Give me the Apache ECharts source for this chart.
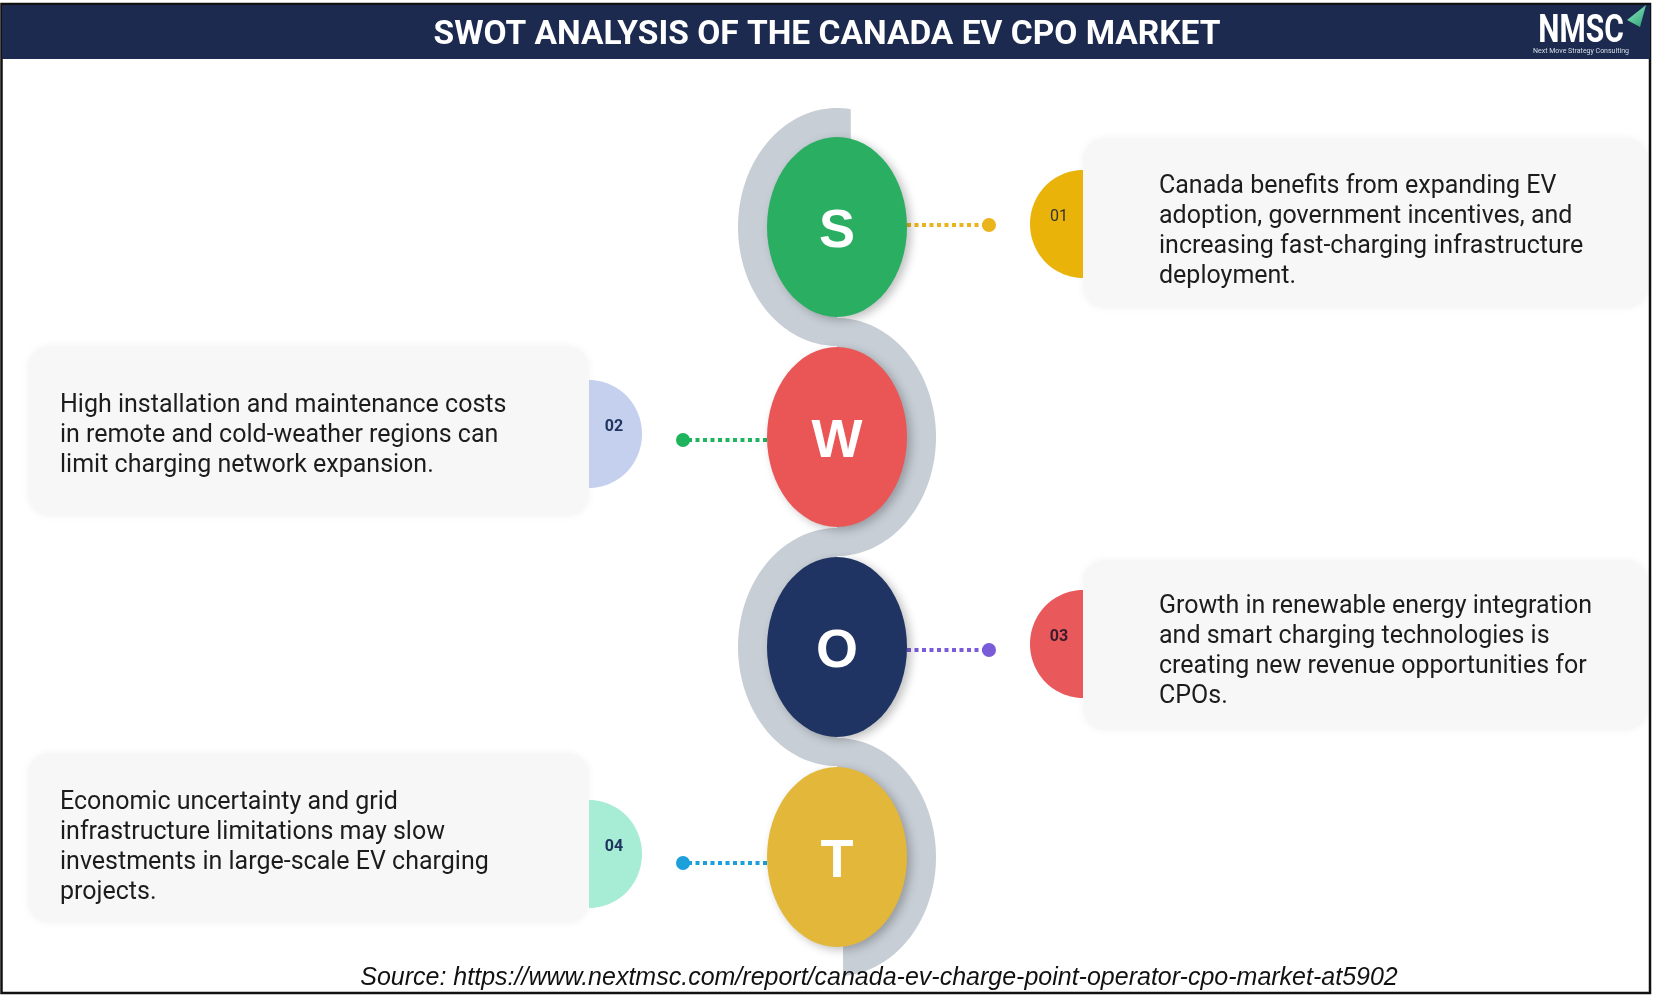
<!DOCTYPE html>
<html lang="en">
<head>
	<meta charset="utf-8" />
	<title>SWOT Analysis of the Canada EV CPO Market</title>
	<style>
		html, body { margin: 0; padding: 0; background: #ffffff; }
		#chart { width: 1653px; height: 1006px; }
	</style>
</head>
<body>
	<div id="chart"></div>
	<script type="text/javascript" src="https://cdn.jsdelivr.net/npm/echarts@6/dist/echarts.min.js"></script>
	<script type="text/javascript">
		// data
		const titleText = 'SWOT ANALYSIS OF THE CANADA EV CPO MARKET';
		const sourceText = 'Source: https://www.nextmsc.com/report/canada-ev-charge-point-operator-cpo-market-at5902';
		const letters = ['S', 'W', 'O', 'T'];
		const tabLabels = ['01', '02', '03', '04'];
		const descriptions = [
			'Canada benefits from expanding EV\nadoption, government incentives, and\nincreasing fast-charging infrastructure\ndeployment.',
			'High installation and maintenance costs\nin remote and cold-weather regions can\nlimit charging network expansion.',
			'Growth in renewable energy integration\nand smart charging technologies is\ncreating new revenue opportunities for\nCPOs.',
			'Economic uncertainty and grid\ninfrastructure limitations may slow\ninvestments in large-scale EV charging\nprojects.'
		];

		// styles
		const circleColors = ['#2aae62', '#ea5656', '#1f3462', '#e3b83a'];
		const dotColors = ['#e9b41c', '#1fb35e', '#7a5cd8', '#1d9fda'];
		const tabColors = ['#e9b30a', '#c4d0ee', '#e9585a', '#a7ecd5'];
		const tabTextColors = ['#333333', '#1f3461', '#3a1b2b', '#1f3461'];
		const tabTextWeights = ['normal', 'bold', 'bold', 'bold'];

		// layout
		const CX = 837;
		const RX = 70, RY = 90, BAND = 29;
		const boxShift = [-4, -6, -2, -19];
		const textShift = [9, 5, 7, 10];
		const dotShift = [-2, 3, 3, 6];

		const nodeData = letters.map(function (l, i) {
			return { name: l, value: [CX, i], itemStyle: { color: circleColors[i] } };
		});

		function arcPts(cx, cy, rx, ry, a0, a1, n) {
			const pts = [];
			for (let k = 0; k <= n; k++) {
				const a = (a0 + (a1 - a0) * k / n) * Math.PI / 180;
				pts.push([cx + rx * Math.cos(a), cy - ry * Math.sin(a)]);
			}
			return pts;
		}

		// grey S-shaped ribbon: half rings on alternating sides
		function renderRibbon(params, api) {
			const i = params.dataIndex;
			const p = api.coord([api.value(0), api.value(1)]);
			const left = i % 2 === 0;
			const orx = RX + BAND, ory = RY + BAND;
			const irx = RX - 3, iry = RY - 3;
			let a0 = 90, a1 = left ? 270 : -90;
			if (i === 0) a0 = 82;
			if (i === letters.length - 1) a1 = -86.5;
			const ia0 = Math.acos(orx * Math.cos(a0 * Math.PI / 180) / irx) * 180 / Math.PI;
			let ia1 = Math.acos(orx * Math.cos(a1 * Math.PI / 180) / irx) * 180 / Math.PI;
			if (a1 < 0) ia1 = -ia1;
			if (a1 > 180) ia1 = 360 - ia1;
			const pts = arcPts(p[0], p[1], orx, ory, a0, a1, 80)
				.concat(arcPts(p[0], p[1], irx, iry, ia1, ia0, 80));
			return {
				type: 'polygon',
				shape: { points: pts },
				style: { fill: '#c7ced5' }
			};
		}

		function renderCard(params, api) {
			const i = params.dataIndex;
			const p = api.coord([api.value(0), api.value(1)]);
			const right = i % 2 === 0;
			const boxH = 170;
			const boxTop = p[1] + boxShift[i] - boxH / 2;
			const boxX = right ? p[0] + 246 : 28;
			const boxW = right ? 1648 - boxX : p[0] - 248 - 28;
			const flatX = right ? p[0] + 246 : p[0] - 248;
			const tabY = p[1] - 3;
			const tabPts = right ? arcPts(flatX, tabY, 53, 54, 90, 270, 60) : arcPts(flatX, tabY, 53, 54, 90, -90, 60);
			return {
				type: 'group',
				children: [{
					type: 'rect',
					shape: { x: boxX, y: boxTop, width: boxW, height: boxH, r: 22 },
					style: { fill: '#f7f7f7', shadowBlur: 8, shadowColor: 'rgba(0,0,0,0.05)' }
				}, {
					type: 'polygon',
					shape: { points: tabPts },
					style: { fill: tabColors[i] }
				}, {
					type: 'text',
					style: {
						x: right ? flatX - 24 : flatX + 25,
						y: p[1] - 10,
						text: tabLabels[i],
						fill: tabTextColors[i],
						font: tabTextWeights[i] + ' 16px Roboto, "Liberation Sans", sans-serif',
						align: 'center', verticalAlign: 'middle',
						textAlign: 'center', textVerticalAlign: 'middle'
					}
				}, {
					type: 'text',
					style: {
						x: right ? 1159 : 60,
						y: boxTop + boxH / 2 + textShift[i],
						text: descriptions[i],
						fill: '#1c1c1c',
						font: '25px Roboto, "Noto Sans", sans-serif',
						lineHeight: 30,
						align: 'left', verticalAlign: 'middle',
						textAlign: 'left', textVerticalAlign: 'middle'
					}
				}]
			};
		}

		function renderLink(params, api) {
			const i = params.dataIndex;
			const p = api.coord([api.value(0), api.value(1)]);
			const right = i % 2 === 0;
			const y = p[1] + dotShift[i];
			const dotX = right ? p[0] + 152 : p[0] - 154;
			const edgeX = right ? p[0] + RX : p[0] - RX;
			return {
				type: 'group',
				children: [{
					type: 'line',
					shape: { x1: edgeX, y1: y, x2: dotX + (right ? -6 : 6), y2: y },
					style: { stroke: dotColors[i], lineWidth: 4, lineDash: [4, 3.5] }
				}, {
					type: 'circle',
					shape: { cx: dotX, cy: y, r: 7 },
					style: { fill: dotColors[i] }
				}]
			};
		}

		const chart = echarts.init(document.getElementById('chart'));
		const option = {
			animation: false,
			grid: { left: 0, right: 0, top: 227, bottom: 149 },
			xAxis: { type: 'value', min: 0, max: 1653, show: false },
			yAxis: { type: 'value', min: 0, max: 3, inverse: true, show: false },
			graphic: [{
				type: 'rect', z: -10,
				shape: { x: 1.5, y: 4, width: 1648.5, height: 989 },
				style: { fill: '#ffffff', stroke: '#111111', lineWidth: 2.5 }
			}, {
				type: 'rect', z: 10,
				shape: { x: 2, y: 5, width: 1648, height: 54 },
				style: { fill: '#1b2a4e' }
			}, {
				type: 'text', z: 11,
				style: {
					x: 827, y: 36, text: titleText, fill: '#ffffff',
					font: 'bold 33.5px Roboto, "Liberation Sans", sans-serif',
					align: 'center', verticalAlign: 'middle',
					textAlign: 'center', textVerticalAlign: 'middle'
				}
			}, {
				type: 'text', z: 11,
				x: 1581, y: 32, scaleY: 1.3,
				style: {
					x: 0, y: 0, text: 'NMSC', fill: '#ffffff',
					font: 'bold 30px Roboto, "Liberation Sans", sans-serif',
					align: 'center', verticalAlign: 'middle',
					textAlign: 'center', textVerticalAlign: 'middle'
				}
			}, {
				type: 'text', z: 11,
				style: {
					x: 1581, y: 51, text: 'Next Move Strategy Consulting', fill: '#d8dde8',
					font: '7px Roboto, sans-serif',
					align: 'center', verticalAlign: 'middle',
					textAlign: 'center', textVerticalAlign: 'middle'
				}
			}, {
				type: 'polygon', z: 11,
				shape: { points: [[1627, 20], [1646, 5], [1640, 27]] },
				style: {
					fill: new echarts.graphic.LinearGradient(0, 0, 1, 1, [
						{ offset: 0, color: '#8ff0c4' },
						{ offset: 1, color: '#2c9f74' }
					])
				}
			}, {
				type: 'text', z: 100,
				style: {
					x: 879, y: 978, text: sourceText, fill: '#111111',
					font: 'italic 25px "Liberation Sans", Arial, sans-serif',
					align: 'center', verticalAlign: 'middle',
					textAlign: 'center', textVerticalAlign: 'middle'
				}
			}],
			series: [{
				name: 'cards',
				type: 'custom',
				z: 1,
				silent: true,
				renderItem: renderCard,
				data: nodeData
			}, {
				name: 'ribbon',
				type: 'custom',
				z: 2,
				silent: true,
				renderItem: renderRibbon,
				data: nodeData
			}, {
				name: 'links',
				type: 'custom',
				z: 3,
				silent: true,
				renderItem: renderLink,
				data: nodeData
			}, {
				name: 'SWOT',
				type: 'scatter',
				z: 4,
				silent: true,
				clip: false,
				symbol: 'circle',
				symbolSize: [2 * RX, 2 * RY],
				itemStyle: {
					opacity: 1,
					shadowBlur: 10,
					shadowOffsetX: 4,
					shadowOffsetY: 3,
					shadowColor: 'rgba(0,0,0,0.25)'
				},
				label: {
					show: true,
					position: 'inside',
					offset: [0, 5],
					formatter: function (p) { return p.name; },
					color: '#ffffff',
					fontSize: 54,
					fontWeight: 'bold',
					fontFamily: '"Liberation Sans", Arial, sans-serif'
				},
				data: nodeData
			}]
		};
		chart.setOption(option);
	</script>
</body>
</html>
